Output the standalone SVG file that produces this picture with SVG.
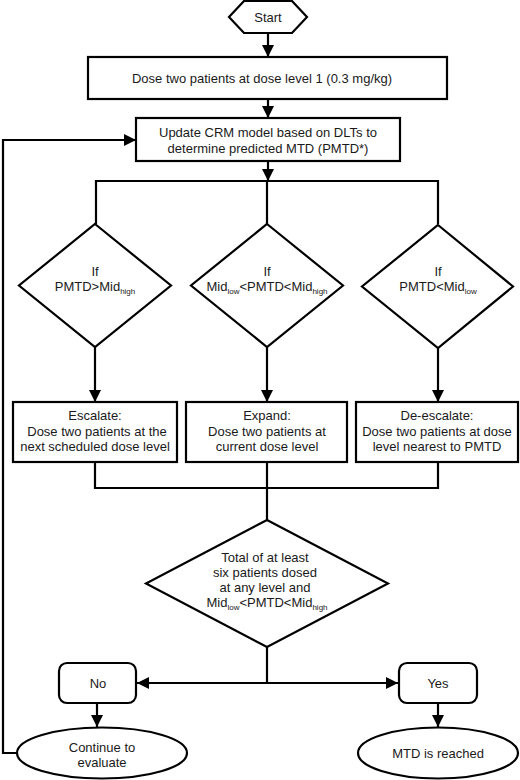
<svg xmlns="http://www.w3.org/2000/svg" width="520" height="780" viewBox="0 0 520 780">
<defs>
<marker id="arr" markerWidth="12" markerHeight="12" refX="12" refY="6" orient="auto" markerUnits="userSpaceOnUse">
<path d="M0,0 L12,6 L0,12 Z" fill="#000"/>
</marker>
<style>
.s{fill:#fff;stroke:#000;stroke-width:2.2}
.c{fill:none;stroke:#000;stroke-width:2.2}
.t{font-family:"Liberation Sans",Arial,Helvetica,sans-serif;font-size:13px;fill:#1a1a1a;text-anchor:middle}
.sub{font-size:8px}
</style>
</defs>
<rect width="520" height="780" fill="#fff"/>
<g id="connectors">
<line class="c" x1="268" y1="33" x2="268" y2="57" marker-end="url(#arr)"/>
<line class="c" x1="268" y1="99" x2="268" y2="118" marker-end="url(#arr)"/>
<line class="c" x1="268" y1="161" x2="268" y2="181" marker-end="url(#arr)"/>
<polyline class="c" points="96,224 96,181 438,181 438,224"/>
<line class="c" x1="267" y1="181" x2="267" y2="224"/>
<line class="c" x1="95" y1="347" x2="95" y2="402" marker-end="url(#arr)"/>
<line class="c" x1="267" y1="347" x2="267" y2="402" marker-end="url(#arr)"/>
<line class="c" x1="438" y1="348" x2="438" y2="402" marker-end="url(#arr)"/>
<polyline class="c" points="95,462 95,488 438,488 438,462"/>
<line class="c" x1="267" y1="462" x2="267" y2="520"/>
<line class="c" x1="267" y1="647" x2="267" y2="683"/>
<line class="c" x1="267" y1="683" x2="137" y2="683" marker-end="url(#arr)"/>
<line class="c" x1="267" y1="683" x2="398" y2="683" marker-end="url(#arr)"/>
<line class="c" x1="97" y1="703" x2="97" y2="727" marker-end="url(#arr)"/>
<line class="c" x1="438" y1="703" x2="438" y2="727" marker-end="url(#arr)"/>
<polyline class="c" points="17,753 3,753 3,140 136,140" marker-end="url(#arr)"/>
</g>
<g id="start">
<polygon class="s" points="229,17 244,1 292,1 307,17 292,33 244,33"/>
<text class="t" x="268" y="22">Start</text>
</g>
<g id="dose1">
<rect class="s" x="88" y="57" width="359" height="42"/>
<text class="t" x="262" y="83">Dose two patients at dose level 1 (0.3 mg/kg)</text>
</g>
<g id="update">
<rect class="s" x="136" y="118" width="264" height="43"/>
<text class="t" x="268" y="137">Update CRM model based on DLTs to</text>
<text class="t" x="268" y="153">determine predicted MTD (PMTD*)</text>
</g>
<g id="d-high">
<polygon class="s" points="95,224 171,285.5 95,347 19,285.5"/>
<text class="t" x="95" y="276">If</text>
<text class="t" x="95" y="291">PMTD&gt;Mid<tspan class="sub" dy="3">high</tspan></text>
</g>
<g id="d-mid">
<polygon class="s" points="267,224 343,285.5 267,347 191,285.5"/>
<text class="t" x="267" y="276">If</text>
<text class="t" x="267" y="291">Mid<tspan class="sub" dy="3">low</tspan><tspan dy="-3">&lt;PMTD&lt;Mid</tspan><tspan class="sub" dy="3">high</tspan></text>
</g>
<g id="d-low">
<polygon class="s" points="438,225 513,286.5 438,348 362,286.5"/>
<text class="t" x="438" y="276">If</text>
<text class="t" x="438" y="291">PMTD&lt;Mid<tspan class="sub" dy="3">low</tspan></text>
</g>
<g id="escalate">
<rect class="s" x="13" y="402" width="164" height="60"/>
<text class="t" x="95" y="420">Escalate:</text>
<text class="t" x="97" y="436">Dose two patients at the</text>
<text class="t" x="95" y="451">next scheduled dose level</text>
</g>
<g id="expand">
<rect class="s" x="186" y="402" width="161" height="60"/>
<text class="t" x="267" y="420">Expand:</text>
<text class="t" x="267" y="436">Dose two patients at</text>
<text class="t" x="267" y="451">current dose level</text>
</g>
<g id="deescalate">
<rect class="s" x="356" y="402" width="162" height="60"/>
<text class="t" x="437" y="420">De-escalate:</text>
<text class="t" x="437" y="436">Dose two patients at dose</text>
<text class="t" x="437" y="451">level nearest to PMTD</text>
</g>
<g id="d-total">
<polygon class="s" points="267,520 388,583.5 267,647 146,583.5"/>
<text class="t" x="265" y="562">Total of at least</text>
<text class="t" x="265" y="577">six patients dosed</text>
<text class="t" x="265" y="592">at any level and</text>
<text class="t" x="267" y="607">Mid<tspan class="sub" dy="3">low</tspan><tspan dy="-3">&lt;PMTD&lt;Mid</tspan><tspan class="sub" dy="3">high</tspan></text>
</g>
<g id="no">
<rect class="s" x="59" y="663" width="77" height="40" rx="8"/>
<text class="t" x="98" y="688">No</text>
</g>
<g id="yes">
<rect class="s" x="399" y="663" width="78" height="40" rx="8"/>
<text class="t" x="438" y="688">Yes</text>
</g>
<g id="continue">
<ellipse class="s" cx="102" cy="753" rx="85" ry="25.5"/>
<text class="t" x="102" y="752">Continue to</text>
<text class="t" x="102" y="767">evaluate</text>
</g>
<g id="mtd">
<ellipse class="s" cx="438" cy="753" rx="80" ry="25.5"/>
<text class="t" x="438" y="758">MTD is reached</text>
</g>
</svg>
